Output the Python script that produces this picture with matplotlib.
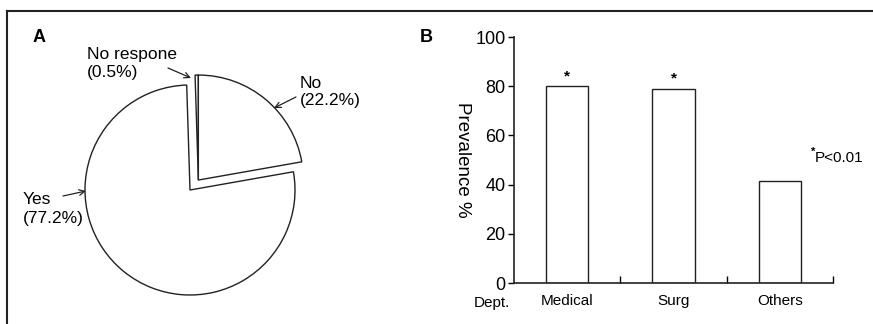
"""
Fig: A 饼图 (respone), B 各科室患病率柱状图
"""
import matplotlib
matplotlib.use("Agg")
import matplotlib.pyplot as plt
from matplotlib.lines import Line2D

plt.rcParams["font.family"] = ["Liberation Sans", "DejaVu Sans"]

# 饼图数据
pie_labels = ["No respone", "Yes", "No"]
pie_pcts = [0.5, 77.2, 22.2]

# 柱状图数据
depts = ["Medical", "Surg", "Others"]
prevalence = [80, 79, 41.5]
signif = [True, True, False]
y_ticks = [0, 20, 40, 60, 80, 100]

W, H = 873, 324
fig = plt.figure(figsize=(W / 100, H / 100), dpi=100)

# 外框（上边和左边）
fig.add_artist(Line2D([7 / W, 1], [1 - 11 / H, 1 - 11 / H], color="#222", lw=1.5))
fig.add_artist(Line2D([7 / W, 7 / W], [0, 1 - 11 / H], color="#222", lw=1.5))

# ---------- A ----------
ax1 = fig.add_axes([(190 - 130) / W, (134 - 130) / H, 260 / W, 260 / H])
wedges, _ = ax1.pie(pie_pcts, startangle=90, counterclock=True, radius=1.05,
                    explode=[0, 0, 0.13],
                    wedgeprops=dict(facecolor="white", edgecolor="#222", linewidth=1.0))
wedges[0].set_center(wedges[2].center)
ax1.set_xlim(-1.3, 1.3)
ax1.set_ylim(-1.3, 1.3)
ax1.set_aspect("equal")
ax1.axis("off")


def px(x, y):
    # 像素坐标 -> 饼图数据坐标
    return ((x - 190) / 100, (190 - y) / 100)


arrow = dict(arrowstyle="->", color="#222", lw=0.9, shrinkA=0, shrinkB=0)
txt_kw = dict(fontsize=12.5, ha="left", va="center", linespacing=1.25, clip_on=False)

ax1.text(*px(87, 64), f"{pie_labels[0]}\n({pie_pcts[0]}%)", **txt_kw)
ax1.annotate("", xy=px(191, 78), xytext=px(168, 68), arrowprops=arrow)

ax1.text(*px(300, 92), f"{pie_labels[2]}\n({pie_pcts[2]}%)", **txt_kw)
ax1.annotate("", xy=px(274, 108), xytext=px(296, 97), arrowprops=arrow)

ax1.text(*px(23, 209), f"{pie_labels[1]}\n({pie_pcts[1]}%)", **txt_kw)
ax1.annotate("", xy=px(86, 191), xytext=px(63, 196), arrowprops=arrow)

fig.text(33 / W, 1 - 37 / H, "A", fontsize=13, fontweight="bold", ha="left", va="center")

# ---------- B ----------
ax2 = fig.add_axes([514 / W, (H - 283) / H, 319 / W, 246 / H])
xs = [i + 0.5 for i in range(len(depts))]
ax2.bar(xs, prevalence, width=0.4, facecolor="white", edgecolor="#222", linewidth=1.0)
for x, v, s in zip(xs, prevalence, signif):
    if s:
        ax2.text(x, v + 4, "*", ha="center", va="center", fontsize=11, fontweight="bold")

ax2.set_xlim(0, 3)
ax2.set_ylim(0, 100)
ax2.set_yticks(y_ticks)
ax2.set_xticks(xs)
ax2.set_xticklabels(depts, fontsize=11)
ax2.set_xticks([1, 2, 3], minor=True)
ax2.tick_params(axis="x", which="major", length=0, pad=8)
ax2.tick_params(axis="x", which="minor", direction="in", length=5, width=1.0)
ax2.tick_params(axis="y", direction="out", length=4, width=1.0, labelsize=13, pad=2)
for sp in ["top", "right"]:
    ax2.spines[sp].set_visible(False)
for sp in ["left", "bottom"]:
    ax2.spines[sp].set_linewidth(1.2)
    ax2.spines[sp].set_color("#222")

ax2.text((462 - 514) / 319, 0.5, "Prevalence %", transform=ax2.transAxes,
         rotation=270, ha="center", va="center", fontsize=13.5)
ax2.text(2.83, 51, "P<0.01", ha="left", va="center", fontsize=11, clip_on=False)
ax2.text(2.83, 53.5, "*", ha="right", va="center", fontsize=8, fontweight="bold", clip_on=False)

fig.text(510 / W, 1 - 303 / H, "Dept.", fontsize=11, ha="right", va="center")
fig.text(420 / W, 1 - 37 / H, "B", fontsize=13, fontweight="bold", ha="left", va="center")

fig.savefig("out.png", dpi=100, facecolor="white")
